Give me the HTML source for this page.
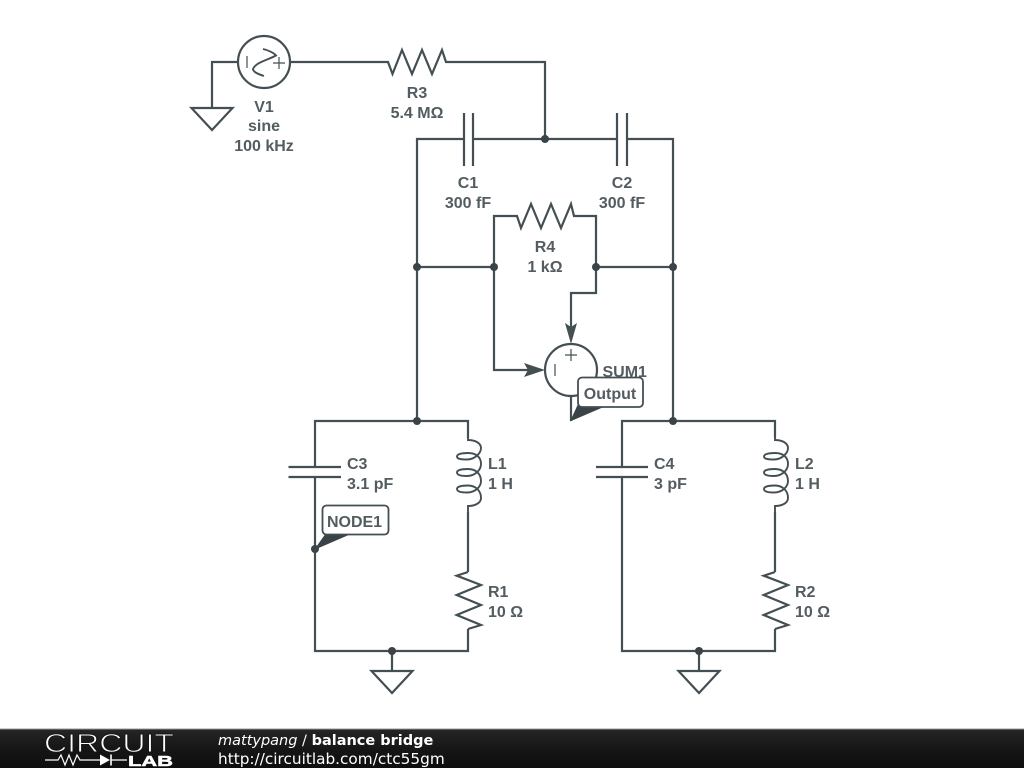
<!DOCTYPE html>
<html><head><meta charset="utf-8"><style>
html,body{margin:0;padding:0;background:#fff}
svg{display:block}
.w{fill:none;stroke:#444f53;stroke-width:2.2;stroke-linejoin:miter}
.c{fill:none;stroke:#444f53;stroke-width:1.9}
.t{font-family:"Liberation Sans",sans-serif;font-weight:bold;font-size:16px;fill:#535c60;text-anchor:middle}
.l{font-family:"Liberation Sans",sans-serif;font-weight:bold;font-size:16px;fill:#535c60}
.f{font-family:"DejaVu Sans",sans-serif;font-size:14.5px;fill:#fff}
</style></head><body>
<svg width="1024" height="768" viewBox="0 0 1024 768" xmlns="http://www.w3.org/2000/svg">
<defs>
<linearGradient id="g" x1="0" y1="0" x2="0" y2="1"><stop offset="0" stop-color="#262626"/><stop offset="0.5" stop-color="#161616"/><stop offset="1" stop-color="#0e0e0e"/></linearGradient>
<path id="coil" d="M0,0 V2 C7,2 13,5 13,10 C13,15 7,21.5 -1,21.5 C-7,21.5 -11,21 -11,18.5 C-11,16 -6,15 0,15 C8,15 13,19 13,26 C13,32 7,38 -1,38 C-7,38 -11,37 -11,34.5 C-11,32 -6,31 0,31 C8,31 13,36 13,43 C13,49 7,54.5 -1,54.5 C-7,54.5 -11,53.5 -11,51 C-11,48.5 -6,47.5 0,47.5 C8,47.5 13,53 13,60 C13,65 7,68 0,68 V74"/>
<path id="res" d="M0,0 L-11.300,3.700 L13,13 L-11.300,23 L13,33 L-11.300,43 L13,53 L0,57"/>
<path id="gnd" d="M-20.500,0 H20.500 L0,22 Z"/>
</defs>

<!-- wires top -->
<path class="w" d="M238,62 H212 V108"/>
<use href="#gnd" x="212" y="108" class="w"/>
<circle class="w" cx="264" cy="62" r="26"/>
<path class="w" style="stroke-width:1.2" d="M247,56 V68 M273,63 H285 M279,57 V69"/>
<path class="w" style="stroke-width:1.9" d="M263,49 C268,50 274,53 276,55.5 C268,60 256,62 253,69 C253,72 258,74 264,76"/>
<path class="w" d="M290,62 H388 L392.500,74 L402,50 L412,74 L422,50 L432,74 L442,50 L446,62 H545 V139"/>
<path class="w" d="M464,139 H417 V421 M473,139 H617 M627,139 H673 V421 M464,113 V166 M473,113 V166 M617,113 V166 M627,113 V166"/>
<path class="w" d="M417,267 H494 M596,267 H673"/>
<path class="w" d="M494,267 V216 H517 L521,228 L531,204 L541,228 L551,204 L561,228 L571,204 L574,216 H596 V293 H571 V330"/>
<path class="w" d="M494,267 V370 H530"/>
<path fill="#444f53" d="M524,363 L545,370 L524,377 L528,370 Z"/>
<path fill="#444f53" d="M565,323 L571,344 L577,323 L571,327 Z"/>
<circle class="w" cx="571" cy="370" r="26"/>
<path class="w" style="stroke-width:1.2" d="M555,364 V376 M565,355 H577 M571,349 V361"/>
<path class="w" d="M571,396 V421"/>
<text class="l" x="602.500" y="377">SUM1</text>

<!-- left tank -->
<path class="w" d="M315,467 V421 H468 V438 M468,512 V572 M315,477 V651 H468 V629"/>
<path class="w" d="M288.500,467 H341 M288.500,477 H341"/>
<use href="#coil" x="468" y="438" class="c"/>
<use href="#res" x="468" y="572" class="w"/>
<path class="w" d="M392,651 V671"/>
<use href="#gnd" x="392" y="671" class="w"/>

<!-- right tank -->
<path class="w" d="M622,467 V421 H775 V438 M775,512 V572 M622,477 V651 H775 V629"/>
<path class="w" d="M596,467 H648 M596,477 H648"/>
<use href="#coil" x="775" y="438" class="c"/>
<use href="#res" x="775" y="572" class="w"/>
<path class="w" d="M699,651 V671"/>
<use href="#gnd" x="699" y="671" class="w"/>

<!-- dots -->
<g fill="#3a4448">
<circle cx="545" cy="139" r="4"/><circle cx="417" cy="267" r="4"/><circle cx="494" cy="267" r="4"/><circle cx="596" cy="267" r="4"/><circle cx="673" cy="267" r="4"/>
<circle cx="417" cy="421" r="4"/><circle cx="673" cy="421" r="4"/><circle cx="392" cy="651" r="4"/><circle cx="699" cy="651" r="4"/><circle cx="315" cy="549" r="4"/>
</g>

<!-- callouts -->
<path fill="#3a4448" d="M570,421.500 L578,404 L606,406 Z"/>
<rect x="578" y="377.500" width="65" height="29.500" rx="4" fill="#fff" stroke="#444f53" stroke-width="1.800"/>
<text class="t" x="610" y="399">Output</text>
<path fill="#3a4448" d="M314,550 L326,533 L351,534 Z"/>
<rect x="322.500" y="505.500" width="66" height="29" rx="4" fill="#fff" stroke="#444f53" stroke-width="1.800"/>
<text class="t" x="354.500" y="527">NODE1</text>

<!-- labels -->
<text class="t" x="264" y="112">V1</text><text class="t" x="264" y="131">sine</text><text class="t" x="264" y="151">100 kHz</text>
<text class="t" x="417" y="98">R3</text><text class="t" x="417" y="118">5.4 MΩ</text>
<text class="t" x="468" y="188">C1</text><text class="t" x="468" y="208">300 fF</text>
<text class="t" x="622" y="188">C2</text><text class="t" x="622" y="208">300 fF</text>
<text class="t" x="545" y="252">R4</text><text class="t" x="545" y="272">1 kΩ</text>
<text class="l" x="347" y="469">C3</text><text class="l" x="347" y="489">3.1 pF</text>
<text class="l" x="488" y="469">L1</text><text class="l" x="488" y="489">1 H</text>
<text class="l" x="488" y="597">R1</text><text class="l" x="488" y="617">10 Ω</text>
<text class="l" x="654" y="469">C4</text><text class="l" x="654" y="489">3 pF</text>
<text class="l" x="795" y="469">L2</text><text class="l" x="795" y="489">1 H</text>
<text class="l" x="795" y="597">R2</text><text class="l" x="795" y="617">10 Ω</text>

<!-- footer -->
<rect x="0" y="729" width="1024" height="39" fill="url(#g)"/>
<rect x="0" y="728.500" width="1024" height="1" fill="#999"/>
<text x="44" y="752" font-family="Liberation Sans, sans-serif" font-size="26" fill="#fff" stroke="#161616" stroke-width="0.900" style="paint-order:fill stroke" textLength="130" lengthAdjust="spacingAndGlyphs">CIRCUIT</text>
<text x="128" y="766" font-family="Liberation Sans, sans-serif" font-weight="bold" font-size="15" fill="#fff" stroke="#fff" stroke-width="0.500" textLength="45" lengthAdjust="spacingAndGlyphs">LAB</text>
<path fill="none" stroke="#fff" stroke-width="1.200" d="M45,760 H58 L61,755 L65,765 L69,755 L73,765 L77,755 L80,760 H100 M111,760 H127"/>
<path fill="#fff" d="M100,754.500 L110,760 L100,765.500 Z"/>
<path stroke="#fff" stroke-width="1.600" d="M111,754.500 V765.500"/>
<text class="f" x="218" y="745"><tspan font-style="italic">mattypang</tspan> / <tspan font-weight="bold">balance bridge</tspan></text>
<text class="f" x="218" y="764" style="font-size:15.3px">http://circuitlab.com/ctc55gm</text>
</svg>
</body></html>
